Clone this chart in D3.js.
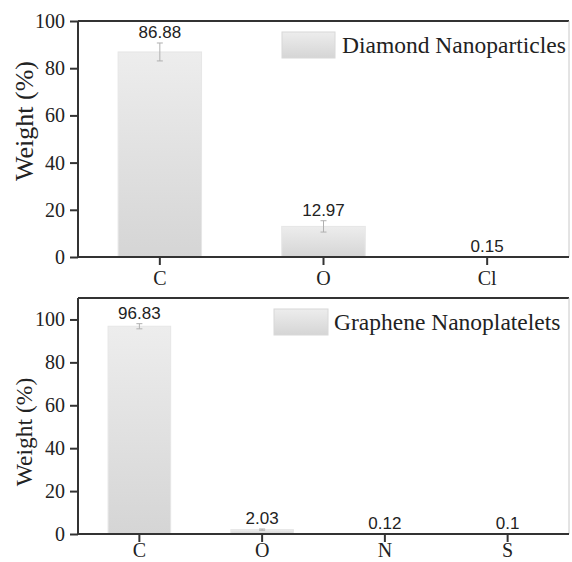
<!DOCTYPE html>
<html>
<head>
<meta charset="utf-8">
<script src="https://cdn.jsdelivr.net/npm/d3@7"></script>
<style>
  html, body { margin: 0; padding: 0; background: #fff; }
  svg { display: block; }
</style>
</head>
<body>
<svg id="chart" width="572" height="562"></svg>
<script>
// ---- Data ----
const topCategories = ["C", "O", "Cl"];
const topValues = [86.88, 12.97, 0.15];
const topErrors = [3.8, 2.4, 0];
const topLegend = "Diamond Nanoparticles";
const topTicks = [0, 20, 40, 60, 80, 100];

const botCategories = ["C", "O", "N", "S"];
const botValues = [96.83, 2.03, 0.12, 0.1];
const botErrors = [1.2, 0.3, 0, 0];
const botLegend = "Graphene Nanoplatelets";
const botTicks = [0, 20, 40, 60, 80, 100];

const yLabel = "Weight (%)";

// ---- Drawing ----
const svg = d3.select("#chart");
const defs = svg.append("defs");
const grad = defs.append("linearGradient")
  .attr("id", "barGrad").attr("x1", 0).attr("y1", 0).attr("x2", 0).attr("y2", 1);
grad.append("stop").attr("offset", "0%").attr("stop-color", "#ededed");
grad.append("stop").attr("offset", "100%").attr("stop-color", "#d5d5d5");

const serif = "'Liberation Serif', 'Times New Roman', serif";
const sans = "'Liberation Sans', Arial, sans-serif";

function panel(opt) {
  const { cats, vals, errs, legend, ticks, top, bottom, left, right, yMax,
          titleSize, titleX, titleY, legBox, legText, xPad } = opt;
  const g = svg.append("g");
  const x = d3.scaleBand().domain(cats).range([left, right])
    .paddingInner(0.49).paddingOuter(0.245);
  const y = d3.scaleLinear().domain([0, yMax]).range([bottom, top]);

  // frame: top dark, right light
  g.append("line").attr("x1", left).attr("x2", right).attr("y1", top).attr("y2", top)
    .attr("stroke", "#333").attr("stroke-width", 2);
  g.append("line").attr("x1", right).attr("x2", right).attr("y1", top).attr("y2", bottom)
    .attr("stroke", "#c8c8c8").attr("stroke-width", 1);

  // bars
  g.selectAll("rect.bar").data(vals).join("rect").attr("class", "bar")
    .attr("x", (d, i) => x(cats[i]))
    .attr("width", x.bandwidth())
    .attr("y", d => y(d))
    .attr("height", d => y(0) - y(d))
    .attr("fill", "url(#barGrad)")
    .attr("stroke", "#e6e6e6").attr("stroke-width", 1);

  // error bars
  vals.forEach((d, i) => {
    const e = errs[i];
    if (!(e > 0)) return;
    const cx = x(cats[i]) + x.bandwidth() / 2;
    const s = g.append("g").attr("class", "err");
    s.append("line").attr("x1", cx).attr("x2", cx).attr("y1", y(d + e)).attr("y2", y(d - e))
      .attr("stroke", "#b0b0b0").attr("stroke-width", 1);
    [d + e, d - e].forEach(v => {
      s.append("line").attr("x1", cx - 3).attr("x2", cx + 3).attr("y1", y(v)).attr("y2", y(v))
        .attr("stroke", "#b0b0b0").attr("stroke-width", 1);
    });
  });

  // value labels
  g.selectAll("text.val").data(vals).join("text").attr("class", "val")
    .attr("x", (d, i) => x(cats[i]) + x.bandwidth() / 2)
    .attr("y", (d, i) => y(d + errs[i]) - 5)
    .attr("text-anchor", "middle")
    .attr("font-family", sans).attr("font-size", 17).attr("fill", "#222")
    .text(d => d);

  // axes
  const yAxis = d3.axisLeft(y).tickValues(ticks).tickSize(8).tickPadding(5);
  const ya = g.append("g").attr("transform", `translate(${left},0)`).call(yAxis);
  const xAxis = d3.axisBottom(x).tickSize(8).tickPadding(xPad);
  const xa = g.append("g").attr("transform", `translate(0,${bottom})`).call(xAxis);
  [ya, xa].forEach(a => {
    a.select(".domain").attr("stroke", "#333").attr("stroke-width", 2);
    a.selectAll(".tick line").attr("stroke", "#333").attr("stroke-width", 2);
    a.selectAll(".tick text").attr("font-family", serif).attr("font-size", 20).attr("fill", "#222");
  });
  ya.select(".domain").attr("d", `M0,${top}V${bottom}`);
  xa.select(".domain").attr("d", `M${left},0H${right}`);

  // y title
  g.append("text")
    .attr("transform", `translate(${titleX},${titleY}) rotate(-90)`)
    .attr("text-anchor", "middle")
    .attr("font-family", serif).attr("font-size", titleSize).attr("fill", "#222")
    .text(yLabel);

  // legend
  g.append("rect").attr("x", legBox[0]).attr("y", legBox[1])
    .attr("width", legBox[2]).attr("height", legBox[3])
    .attr("fill", "url(#barGrad)").attr("stroke", "#d8d8d8").attr("stroke-width", 1);
  g.append("text").attr("x", legText[0]).attr("y", legText[1])
    .attr("font-family", serif).attr("font-size", 23.5).attr("fill", "#222")
    .text(legend);
}

panel({
  cats: topCategories, vals: topValues, errs: topErrors, legend: topLegend, ticks: topTicks,
  top: 21, bottom: 257, left: 78, right: 569, yMax: 100,
  titleSize: 26, titleX: 33, titleY: 121,
  legBox: [282, 32, 53, 26], legText: [342, 53], xPad: 6
});

panel({
  cats: botCategories, vals: botValues, errs: botErrors, legend: botLegend, ticks: botTicks,
  top: 298, bottom: 534, left: 78, right: 569, yMax: 110,
  titleSize: 23.5, titleX: 32, titleY: 432,
  legBox: [274, 309, 54, 26], legText: [334, 330], xPad: 1
});
</script>
</body>
</html>
